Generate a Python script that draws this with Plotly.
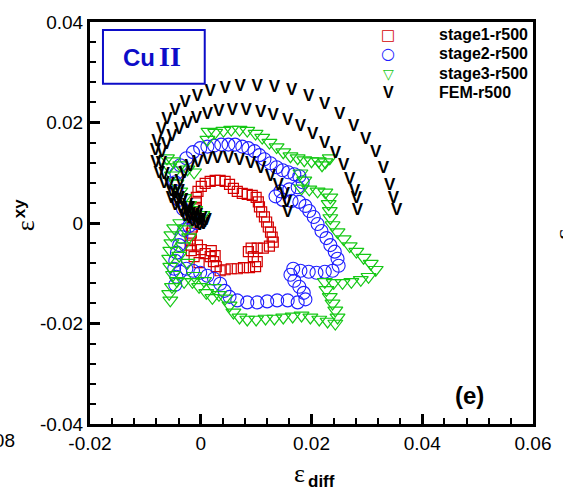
import plotly.graph_objects as go

# ---------------- data ----------------
legend_labels = ["stage1-r500", "stage2-r500", "stage3-r500", "FEM-r500"]
x_tick_vals = [-0.02, 0.0, 0.02, 0.04, 0.06]
x_tick_text = ["-0.02", "0", "0.02", "0.04", "0.06"]
y_tick_vals = [-0.04, -0.02, 0.0, 0.02, 0.04]
y_tick_text = ["-0.04", "-0.02", "0", "0.02", "0.04"]

stage1_x = [-0.0003, -0.0012, -0.0017, -0.0019, -0.0019, -0.0017, -0.0015, -0.0012, -0.0010, -0.0008,
            -0.0008, -0.0008, -0.0005, 0.0001, 0.0008, 0.0017, 0.0026, 0.0035, 0.0044, 0.0052,
            0.0059, 0.0066, 0.0075, 0.0084, 0.0093, 0.0100, 0.0104, 0.0106, 0.0110, 0.0115,
            0.0119, 0.0122, 0.0126, 0.0129, 0.0131, 0.0124, 0.0113, 0.0102, 0.0091, 0.0086,
            0.0095, 0.0102, 0.0099, 0.0088, 0.0077, 0.0066, 0.0055, 0.0044, 0.0035, 0.0028,
            0.0023, 0.0017, 0.0008, 0.0001, -0.0006, 0.0019, 0.0026]
stage1_y = [-0.0079, -0.0067, -0.0055, -0.0044, -0.0032, -0.0020, -0.0008, 0.0004, 0.0016, 0.0028,
            0.0040, 0.0051, 0.0063, 0.0073, 0.0079, 0.0083, 0.0085, 0.0085, 0.0083, 0.0077,
            0.0069, 0.0063, 0.0059, 0.0057, 0.0055, 0.0051, 0.0042, 0.0032, 0.0022, 0.0012,
            0.0002, -0.0008, -0.0018, -0.0028, -0.0038, -0.0046, -0.0050, -0.0050, -0.0050, -0.0057,
            -0.0067, -0.0077, -0.0087, -0.0089, -0.0089, -0.0091, -0.0091, -0.0093, -0.0095, -0.0087,
            -0.0077, -0.0067, -0.0061, -0.0053, -0.0044, -0.0055, -0.0065]

stage2_x = [-0.0008, -0.0021, -0.0032, -0.0039, -0.0044, -0.0046, -0.0044, -0.0037, -0.0026, -0.0014,
            -0.0001, 0.0012, 0.0024, 0.0037, 0.0050, 0.0062, 0.0075, 0.0086, 0.0097, 0.0106,
            0.0115, 0.0126, 0.0137, 0.0148, 0.0158, 0.0169, 0.0178, 0.0184, 0.0175, 0.0160,
            0.0144, 0.0135, 0.0148, 0.0164, 0.0178, 0.0189, 0.0196, 0.0204, 0.0211, 0.0218,
            0.0227, 0.0234, 0.0242, 0.0247, 0.0249, 0.0238, 0.0224, 0.0209, 0.0195, 0.0180,
            0.0167, 0.0162, 0.0169, 0.0178, 0.0186, 0.0189, 0.0175, 0.0157, 0.0138, 0.0120,
            0.0102, 0.0084, 0.0066, 0.0052, 0.0043, 0.0035, 0.0024, 0.0012, -0.0001, -0.0014,
            -0.0026, -0.0037, -0.0044, -0.0046, -0.0048, -0.0046, -0.0043, -0.0039, -0.0035, -0.0030,
            -0.0021]
stage2_y = [0.0000, 0.0012, 0.0028, 0.0046, 0.0063, 0.0081, 0.0099, 0.0115, 0.0129, 0.0141,
            0.0149, 0.0152, 0.0154, 0.0156, 0.0156, 0.0156, 0.0152, 0.0149, 0.0143, 0.0135,
            0.0127, 0.0119, 0.0111, 0.0105, 0.0101, 0.0097, 0.0093, 0.0081, 0.0071, 0.0067,
            0.0063, 0.0053, 0.0046, 0.0044, 0.0042, 0.0034, 0.0024, 0.0012, -0.0002, -0.0016,
            -0.0030, -0.0044, -0.0057, -0.0071, -0.0085, -0.0095, -0.0097, -0.0099, -0.0097, -0.0095,
            -0.0091, -0.0103, -0.0115, -0.0127, -0.0139, -0.0152, -0.0158, -0.0154, -0.0154, -0.0156,
            -0.0158, -0.0158, -0.0154, -0.0147, -0.0135, -0.0121, -0.0111, -0.0105, -0.0099, -0.0095,
            -0.0091, -0.0097, -0.0107, -0.0123, -0.0091, -0.0075, -0.0059, -0.0044, -0.0028, -0.0014,
            -0.0006]

stage3_x = [0.0003, -0.0010, -0.0021, -0.0030, -0.0037, -0.0044, -0.0052, -0.0057, -0.0061, -0.0050,
            -0.0037, -0.0024, -0.0012, 0.0012, 0.0014, 0.0026, 0.0041, 0.0055, 0.0070, 0.0084,
            0.0099, 0.0111, 0.0124, 0.0137, 0.0149, 0.0162, 0.0175, 0.0187, 0.0200, 0.0213,
            0.0225, 0.0233, 0.0219, 0.0180, 0.0187, 0.0182, 0.0196, 0.0211, 0.0225, 0.0234,
            0.0231, 0.0233, 0.0234, 0.0238, 0.0247, 0.0258, 0.0269, 0.0281, 0.0294, 0.0307,
            0.0316, 0.0303, 0.0289, 0.0272, 0.0256, 0.0240, 0.0224, 0.0227, 0.0233, 0.0238,
            0.0243, 0.0247, 0.0243, 0.0229, 0.0214, 0.0198, 0.0182, 0.0166, 0.0149, 0.0133,
            0.0117, 0.0100, 0.0084, 0.0070, 0.0059, 0.0052, 0.0044, 0.0033, 0.0021, 0.0010,
            -0.0003, -0.0015, -0.0030, -0.0043, -0.0052, -0.0057, -0.0055, -0.0050, -0.0055, -0.0057,
            -0.0055, -0.0053, -0.0053, -0.0048, -0.0037, -0.0028, -0.0021, -0.0032, -0.0039, -0.0024,
            -0.0012, 0.0006, 0.0024]
stage3_y = [0.0016, 0.0026, 0.0036, 0.0050, 0.0063, 0.0079, 0.0095, 0.0111, 0.0129, 0.0123,
            0.0115, 0.0107, 0.0101, 0.0166, 0.0182, 0.0180, 0.0184, 0.0186, 0.0186, 0.0184,
            0.0178, 0.0170, 0.0160, 0.0151, 0.0141, 0.0133, 0.0129, 0.0125, 0.0123, 0.0123,
            0.0121, 0.0129, 0.0115, 0.0099, 0.0085, 0.0069, 0.0067, 0.0063, 0.0061, 0.0051,
            0.0038, 0.0024, 0.0010, -0.0004, -0.0018, -0.0032, -0.0046, -0.0057, -0.0069, -0.0081,
            -0.0093, -0.0107, -0.0113, -0.0117, -0.0119, -0.0119, -0.0117, -0.0133, -0.0147, -0.0160,
            -0.0174, -0.0188, -0.0200, -0.0196, -0.0192, -0.0188, -0.0184, -0.0186, -0.0188, -0.0190,
            -0.0190, -0.0192, -0.0192, -0.0188, -0.0178, -0.0164, -0.0150, -0.0143, -0.0149, -0.0139,
            -0.0127, -0.0117, -0.0117, -0.0115, -0.0127, -0.0141, -0.0154, -0.0103, -0.0087, -0.0071,
            -0.0055, -0.0040, -0.0024, -0.0010, 0.0000, -0.0012, -0.0028, -0.0046, -0.0065, -0.0079,
            -0.0105, -0.0115, -0.0129]

fem_outer_x = [-0.0010, -0.0024, -0.0039, -0.0053, -0.0066, -0.0075, -0.0081, -0.0082, -0.0079, -0.0071,
               -0.0061, -0.0046, -0.0028, -0.0006, 0.0017, 0.0044, 0.0071, 0.0102, 0.0133, 0.0164,
               0.0195, 0.0224, 0.0251, 0.0276, 0.0298, 0.0316, 0.0330, 0.0341, 0.0348, 0.0354]
fem_outer_y = [0.0020, 0.0034, 0.0048, 0.0063, 0.0079, 0.0099, 0.0119, 0.0143, 0.0162, 0.0186,
               0.0206, 0.0224, 0.0240, 0.0251, 0.0261, 0.0267, 0.0271, 0.0271, 0.0269, 0.0263,
               0.0251, 0.0236, 0.0216, 0.0192, 0.0166, 0.0139, 0.0107, 0.0075, 0.0048, 0.0024]
fem_inner_x = [-0.0006, -0.0021, -0.0033, -0.0046, -0.0057, -0.0066, -0.0071, -0.0070, -0.0062, -0.0052,
               -0.0039, -0.0024, -0.0008, 0.0012, 0.0033, 0.0057, 0.0082, 0.0108, 0.0131, 0.0157,
               0.0180, 0.0202, 0.0224, 0.0243, 0.0258, 0.0269, 0.0278, 0.0281, 0.0283]
fem_inner_y = [0.0014, 0.0028, 0.0044, 0.0059, 0.0077, 0.0097, 0.0117, 0.0139, 0.0156, 0.0172,
               0.0186, 0.0198, 0.0208, 0.0216, 0.0222, 0.0224, 0.0224, 0.0220, 0.0214, 0.0204,
               0.0192, 0.0176, 0.0158, 0.0137, 0.0113, 0.0087, 0.0063, 0.0048, 0.0024]
fem_third_x = [-0.0003, -0.0014, -0.0024, -0.0033, -0.0039, -0.0037, -0.0030, -0.0019, -0.0005, 0.0012,
               0.0030, 0.0050, 0.0070, 0.0090, 0.0108, 0.0126, 0.0140, 0.0151, 0.0155, 0.0157]
fem_third_y = [0.0004, 0.0014, 0.0028, 0.0044, 0.0063, 0.0083, 0.0099, 0.0111, 0.0119, 0.0125,
               0.0127, 0.0127, 0.0123, 0.0117, 0.0107, 0.0093, 0.0075, 0.0057, 0.0040, 0.0020]
fem_blob_x = [0.0010, 0.0005, -0.0008, -0.0021, -0.0033, -0.0046, -0.0053, -0.0015, -0.0028,
              0.0002, -0.0004, -0.0012, -0.0019, -0.0026, -0.0036, -0.0042, 0.0007, -0.0002]
fem_blob_y = [0.0004, -0.0004, -0.0002, 0.0008, 0.0020, 0.0034, 0.0048, 0.0002, 0.0012,
              0.0008, 0.0004, 0.0010, 0.0016, 0.0024, 0.0028, 0.0040, 0.0000, -0.0006]

fem_x = fem_outer_x + fem_inner_x + fem_third_x + fem_blob_x
fem_y = fem_outer_y + fem_inner_y + fem_third_y + fem_blob_y

# ---------------- style ----------------
RED = "#D40000"
BLUE = "#1E1EFF"
GREEN = "#14C814"
CU_BLUE = "#0C0CC8"
SANS = "Liberation Sans"
SERIF = "Liberation Serif"

fig = go.Figure()
fig.add_trace(go.Scatter(x=stage1_x, y=stage1_y, mode="markers", name=legend_labels[0],
                         marker=dict(symbol="square-open", size=10, color=RED, line=dict(width=1.2, color=RED))))
fig.add_trace(go.Scatter(x=stage2_x, y=stage2_y, mode="markers", name=legend_labels[1],
                         marker=dict(symbol="circle-open", size=13, color=BLUE, line=dict(width=1.1, color=BLUE))))
fig.add_trace(go.Scatter(x=stage3_x, y=stage3_y, mode="markers", name=legend_labels[2],
                         marker=dict(symbol="triangle-down-open", size=13, color=GREEN, line=dict(width=1.2, color=GREEN))))
fig.add_trace(go.Scatter(x=fem_x, y=fem_y, mode="text", name=legend_labels[3],
                         text=["<b>V</b>"] * len(fem_x), textposition="middle center",
                         textfont=dict(family=SANS, size=17, color="black")))

axis_common = dict(showgrid=False, zeroline=False, showline=True, linecolor="black", linewidth=3,
                   mirror=True, ticks="inside", ticklen=10, tickwidth=3, tickcolor="black",
                   tickfont=dict(family=SANS, size=19, color="black"), tickmode="array",
                   minor=dict(ticks="inside", ticklen=6, tickwidth=2, tickcolor="black",
                              tickmode="linear", tick0=0, dtick=0.004, showgrid=False))
fig.update_xaxes(range=[-0.02, 0.06], tickvals=x_tick_vals, ticktext=x_tick_text, **axis_common)
fig.update_yaxes(range=[-0.04, 0.04], tickvals=y_tick_vals, ticktext=y_tick_text, **axis_common)

L, T, W, H = 90, 20, 444, 404
fig.update_layout(width=563, height=494, margin=dict(l=L, r=563 - L - W, t=T, b=494 - T - H, pad=0),
                  paper_bgcolor="white", plot_bgcolor="white", showlegend=False,
                  font=dict(family=SANS, color="black"))


def px(xp):
    return (xp - L) / W


def py(yp):
    return (T + H - yp) / H


def note(x, y, text, size, family=SANS, color="black", xanchor="center", angle=0):
    return dict(x=px(x), y=py(y), xref="paper", yref="paper", showarrow=False,
                xanchor=xanchor, yanchor="middle", text=text, textangle=angle,
                font=dict(family=family, size=size, color=color))


ann = []
# axis titles
ann.append(note(300, 474, "ε", 26, SERIF))
ann.append(note(306, 482, "<b>diff</b>", 17, xanchor="left"))
ann.append(note(26, 225, "ε", 26, SERIF, angle=-90))
ann.append(note(19, 208, "<b>xy</b>", 17, angle=-90))
# legend
glyphs = [("□", RED, 15, "DejaVu Sans"), ("○", BLUE, 16, "DejaVu Sans"),
          ("▽", GREEN, 14, "DejaVu Sans"), ("<b>V</b>", "black", 16, SANS)]
rows = [33, 52, 72, 91]
for (g, c, s, f), lab, r in zip(glyphs, legend_labels, rows):
    ann.append(note(389, r, g, s, f, c))
    ann.append(note(438, r, "<b>" + lab + "</b>", 16, xanchor="left"))
# Cu II label
ann.append(note(139, 56, "<b>Cu</b>", 24, SANS, CU_BLUE))
ann.append(note(170, 55, "<b>II</b>", 28, SERIF, CU_BLUE))
# panel label
ann.append(note(470, 395, "<b>(e)</b>", 24))
# cropped neighbour fragments at the picture edges
ann.append(note(17, 441, "0.08", 19, xanchor="right"))
ann.append(note(565, 233, "ε", 26, SERIF, angle=-90))
fig.update_layout(annotations=ann)

fig.add_shape(type="rect", xref="paper", yref="paper", x0=px(103), x1=px(205), y0=py(82), y1=py(28),
              line=dict(color=CU_BLUE, width=2), layer="above")

fig.write_html("out.html")
